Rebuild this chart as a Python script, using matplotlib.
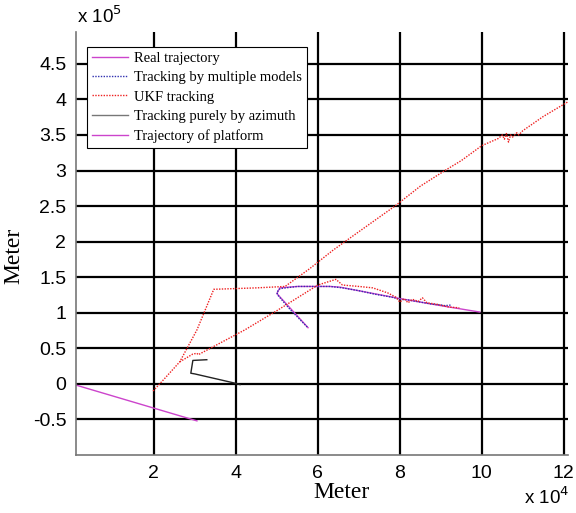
import matplotlib.pyplot as plt
import numpy as np

# data (x in 1e4 m, y in 1e5 m)
platform_x = [0.0, 3.05]
platform_y = [0.0, -0.52]

real_x = [5.76, 5.0, 5.07, 5.5, 6.3, 6.54, 7.27, 8.0, 9.0, 9.95]
real_y = [0.79, 1.27, 1.35, 1.37, 1.37, 1.36, 1.28, 1.20, 1.10, 1.01]

mm_x = [5.74, 5.3, 5.02, 5.0, 5.08, 5.5, 5.9, 6.3, 6.6, 7.0, 7.4, 7.8, 8.0, 8.2,
        8.4, 8.6, 8.8, 9.0, 9.1, 9.27]
mm_y = [0.80, 1.06, 1.25, 1.29, 1.34, 1.37, 1.37, 1.37, 1.35, 1.31, 1.26, 1.22,
        1.19, 1.18, 1.16, 1.14, 1.12, 1.11, 1.10, 1.11]

ukf_a_x = [1.98, 2.3, 2.63, 3.05, 3.46, 4.5, 5.2, 5.8, 6.37, 7.0, 7.88, 8.5, 9.1,
           9.5, 10.0, 10.4, 10.5, 10.55, 10.6, 10.65, 10.7, 10.75, 10.85, 10.9,
           11.0, 11.5, 12.2]
ukf_a_y = [-0.10, 0.10, 0.31, 0.76, 1.33, 1.35, 1.37, 1.62, 1.88, 2.14, 2.50,
           2.78, 3.00, 3.14, 3.35, 3.45, 3.50, 3.44, 3.52, 3.40, 3.50, 3.47,
           3.53, 3.50, 3.56, 3.76, 4.00]

ukf_b_x = [2.63, 2.95, 3.05, 3.08, 4.22, 5.0, 6.0, 6.44, 6.6, 7.0, 7.34, 7.7,
           7.9, 8.0, 8.1, 8.2, 8.3, 8.45, 8.55, 8.66, 8.9, 9.2, 9.45]
ukf_b_y = [0.31, 0.42, 0.43, 0.41, 0.76, 1.03, 1.39, 1.47, 1.39, 1.37, 1.35,
           1.28, 1.22, 1.15, 1.20, 1.14, 1.19, 1.16, 1.21, 1.14, 1.12, 1.08, 1.07]

az_x = [3.29, 2.95, 2.9, 3.0, 3.98, 4.1]
az_y = [0.34, 0.33, 0.15, 0.14, 0.01, -0.01]

xticks = [2, 4, 6, 8, 10, 12]
yticks = [-0.5, 0, 0.5, 1, 1.5, 2, 2.5, 3, 3.5, 4, 4.5]
ytick_labels = ['-0.5', '0', '0.5', '1', '1.5', '2', '2.5', '3', '3.5', '4', '4.5']

fig = plt.figure(figsize=(5.76, 5.13), dpi=100)
ax = fig.add_axes([0.132, 0.113, 0.854, 0.825])

ax.plot(np.array(real_x) * 1e4, np.array(real_y) * 1e5, color='#cc44cc', lw=1.0,
        label='Real trajectory')
ax.plot(np.array(mm_x) * 1e4, np.array(mm_y) * 1e5, color='#3030b0', lw=1.0,
        ls=(0, (1, 1)), label='Tracking by multiple models')
ax.plot(np.array(ukf_a_x) * 1e4, np.array(ukf_a_y) * 1e5, color='#ee2020', lw=1.0,
        ls=(0, (1, 1)), label='UKF tracking')
ax.plot(np.array(ukf_b_x) * 1e4, np.array(ukf_b_y) * 1e5, color='#ee2020', lw=1.0,
        ls=(0, (1, 1)))
ax.plot(np.array(az_x) * 1e4, np.array(az_y) * 1e5, color='#222222', lw=1.0,
        label='Tracking purely by azimuth')
ax.plot(np.array(platform_x) * 1e4, np.array(platform_y) * 1e5, color='#cc44cc',
        lw=1.0, label='Trajectory of platform')

ax.set_xlim(0.1e4, 12.1e4)
ax.set_ylim(-1e5, 4.95e5)
ax.set_xticks([v * 1e4 for v in xticks])
ax.set_xticklabels([str(v) for v in xticks])
ax.set_yticks([v * 1e5 for v in yticks])
ax.set_yticklabels(ytick_labels)
for lab in ax.get_xticklabels() + ax.get_yticklabels():
    lab.set_family('Liberation Sans')
    lab.set_fontsize(14)
ax.tick_params(length=0, pad=7)
ax.grid(True, color='black', lw=1.6)
ax.set_axisbelow(True)
for s in ['top', 'right']:
    ax.spines[s].set_visible(False)
for s in ['left', 'bottom']:
    ax.spines[s].set_color('#777777')
    ax.spines[s].set_linewidth(1.2)

ax.set_xlabel('Meter', family='Liberation Serif', fontsize=17, labelpad=0)
ax.set_ylabel('Meter', family='Liberation Serif', fontsize=17, labelpad=6)
ax.xaxis.label.set_x(0.54)
ax.yaxis.label.set_y(0.47)

fig.text(0.133, 0.955, 'x 10$^{5}$', family='Liberation Sans', fontsize=13.5)
fig.text(0.91, 0.018, 'x 10$^{4}$', family='Liberation Sans', fontsize=13.5)

leg = ax.legend(loc='upper left', bbox_to_anchor=(0.022, 0.965), borderaxespad=0,
                prop={'family': 'Liberation Serif', 'size': 10.5},
                fancybox=False, edgecolor='black', framealpha=1,
                handlelength=2.5, handletextpad=0.4, labelspacing=0.42,
                borderpad=0.35)
leg.get_frame().set_linewidth(0.8)
leg.legend_handles[3].set_color('#777777')

plt.savefig('out.png', dpi=100)
